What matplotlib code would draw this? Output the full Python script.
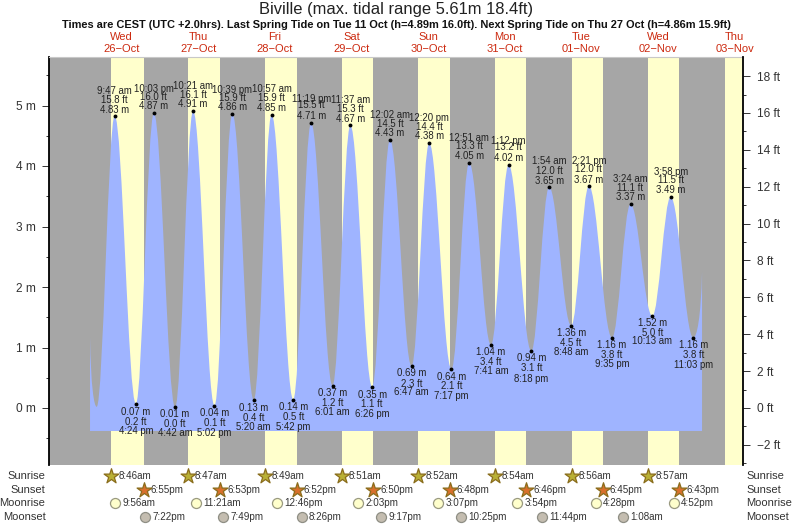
import matplotlib
matplotlib.use("Agg")
import matplotlib.pyplot as plt
from matplotlib.path import Path
from matplotlib.patches import PathPatch
from matplotlib.ticker import FixedLocator, FixedFormatter

plt.rcParams['font.family'] = ['Liberation Sans', 'DejaVu Sans']

# ---------- data (hours since 26 Oct 00:00, metres) ----------
edge_start_hour, edge_start_m = 2.04, 1.17
first_low_hour, first_low_m = 4.13, 0.02
edge_end_hour, edge_end_m = 193.8, 2.25
water_floor = -0.38

high_hours = [9.78, 22.05, 34.35, 46.65, 58.95, 71.32, 83.62, 96.03, 108.33, 120.85, 133.2, 145.9, 158.35, 171.4, 183.97]
high_m = [4.83, 4.87, 4.91, 4.86, 4.85, 4.71, 4.67, 4.43, 4.38, 4.05, 4.02, 3.65, 3.67, 3.37, 3.49]
high_ft = [15.8, 16.0, 16.1, 15.9, 15.9, 15.5, 15.3, 14.5, 14.4, 13.3, 13.2, 12.0, 12.0, 11.1, 11.5]
high_time = ['9:47 am', '10:03 pm', '10:21 am', '10:39 pm', '10:57 am', '11:19 pm', '11:37 am', '12:02 am',
             '12:20 pm', '12:51 am', '1:12 pm', '1:54 am', '2:21 pm', '3:24 am', '3:58 pm']
low_hours = [16.4, 28.7, 41.03, 53.33, 65.7, 78.02, 90.43, 102.78, 115.28, 127.68, 140.3, 152.8, 165.58, 178.22, 191.05]
low_m = [0.07, 0.01, 0.04, 0.13, 0.14, 0.37, 0.35, 0.69, 0.64, 1.04, 0.94, 1.36, 1.16, 1.52, 1.16]
low_ft = [0.2, 0.0, 0.1, 0.4, 0.5, 1.2, 1.1, 2.3, 2.1, 3.4, 3.1, 4.5, 3.8, 5.0, 3.8]
low_time = ['4:24 pm', '4:42 am', '5:02 pm', '5:20 am', '5:42 pm', '6:01 am', '6:26 pm', '6:47 am',
            '7:17 pm', '7:41 am', '8:18 pm', '8:48 am', '9:35 pm', '10:13 am', '11:03 pm']

weekdays = ['Wed', 'Thu', 'Fri', 'Sat', 'Sun', 'Mon', 'Tue', 'Wed', 'Thu']
dates = ['26\u2212Oct', '27\u2212Oct', '28\u2212Oct', '29\u2212Oct', '30\u2212Oct', '31\u2212Oct',
         '01\u2212Nov', '02\u2212Nov', '03\u2212Nov']

# (day index, hour-of-day)
sunrise_day = [0, 1, 2, 3, 4, 5, 6, 7]
sunrise_hr = [8.77, 8.78, 8.82, 8.85, 8.87, 8.90, 8.93, 8.95]
sunrise_lbl = ['8:46am', '8:47am', '8:49am', '8:51am', '8:52am', '8:54am', '8:56am', '8:57am']
last_sunrise = (8, 8.98)
sunset_day = [0, 1, 2, 3, 4, 5, 6, 7]
sunset_hr = [18.92, 18.88, 18.87, 18.83, 18.80, 18.77, 18.75, 18.72]
sunset_lbl = ['6:55pm', '6:53pm', '6:52pm', '6:50pm', '6:48pm', '6:46pm', '6:45pm', '6:43pm']
moonrise_day = [0, 1, 2, 3, 4, 5, 6, 7]
moonrise_hr = [9.93, 11.35, 12.77, 14.05, 15.12, 15.90, 16.47, 16.87]
moonrise_lbl = ['9:56am', '11:21am', '12:46pm', '2:03pm', '3:07pm', '3:54pm', '4:28pm', '4:52pm']
moonset_day = [0, 1, 2, 3, 4, 5, 7]
moonset_hr = [19.37, 19.82, 20.43, 21.28, 22.42, 23.73, 1.13]
moonset_lbl = ['7:22pm', '7:49pm', '8:26pm', '9:17pm', '10:25pm', '11:44pm', '1:08am']

row_names = ['Sunrise', 'Sunset', 'Moonrise', 'Moonset']

# ---------- layout ----------
W, H = 793, 525
L, R, T, B = 49, 743, 57, 465
PX_PER_HOUR = 76.6 / 24
X0 = 83.5
PX_PER_M = 60.5
Y0 = 408
FT = 0.3048
TXT = '#222222'

high_offs = [(-25, -16, -6), (-24, -16, -7), (-25, -16, -7), (-24, -16, -7), (-26, -17, -7),
             (-24, -18, -7), (-25, -16, -6), (-25, -16, -7), (-25, -16, -7), (-25, -17, -7),
             (-24, -18, -7), (-26, -16, -6), (-25, -17, -6), (-25, -16, -7), (-25, -17, -7)]
low_offs = [(8, 18, 27), (7, 17, 26), (7.5, 17, 27), (7.5, 17.5, 26.5), (7, 17, 27),
            (7, 17, 26), (8, 17, 27), (7, 18, 26), (8, 17, 27), (7, 17, 26),
            (7, 17, 27.5), (7, 17, 26), (7, 17, 26.5), (7, 17, 25), (7, 17, 27)]

fig = plt.figure(figsize=(W / 100, H / 100), dpi=100)
ax = fig.add_axes([L / W, 1 - B / H, (R - L) / W, (B - T) / H])
ax.set_xlim((L - X0) / PX_PER_HOUR, (R - X0) / PX_PER_HOUR)
ax.set_ylim((Y0 - B) / PX_PER_M, (Y0 - T) / PX_PER_M)

# background: night grey, daylight yellow
ax.set_facecolor('#a6a6a6')
for d, sr, ss in zip(sunrise_day, sunrise_hr, sunset_hr):
    ax.axvspan(d * 24 + sr, d * 24 + ss, color='#ffffcc', lw=0, zorder=1)
ax.axvspan(last_sunrise[0] * 24 + last_sunrise[1], ax.get_xlim()[1], color='#ffffcc', lw=0, zorder=1)

# water body: a Bezier path through the read high and low waters,
# flat-tangent at each turning point
turn_x = [first_low_hour]
turn_y = [first_low_m]
for hx, hy, lx, ly in zip(high_hours, high_m, low_hours, low_m):
    turn_x += [hx, lx]
    turn_y += [hy, ly]
HANDLE = 0.3642
verts = [(edge_start_hour, water_floor), (edge_start_hour, edge_start_m)]
codes = [Path.MOVETO, Path.LINETO]
verts += [(edge_start_hour + 0.12 * (first_low_hour - edge_start_hour), first_low_m + 0.3 * (edge_start_m - first_low_m)),
          (first_low_hour - 0.4 * (first_low_hour - edge_start_hour), first_low_m),
          (first_low_hour, first_low_m)]
codes += [Path.CURVE4] * 3
for x1, y1, x2, y2 in zip(turn_x[:-1], turn_y[:-1], turn_x[1:], turn_y[1:]):
    d = x2 - x1
    verts += [(x1 + HANDLE * d, y1), (x2 - HANDLE * d, y2), (x2, y2)]
    codes += [Path.CURVE4] * 3
d = edge_end_hour - turn_x[-1]
verts += [(turn_x[-1] + 0.4 * d, turn_y[-1]),
          (edge_end_hour - 0.12 * d, turn_y[-1] + 0.3 * (edge_end_m - turn_y[-1])),
          (edge_end_hour, edge_end_m)]
codes += [Path.CURVE4] * 3
verts += [(edge_end_hour, water_floor), (edge_start_hour, water_floor)]
codes += [Path.LINETO, Path.CLOSEPOLY]
ax.add_patch(PathPatch(Path(verts, codes), facecolor='#9fb4ff', edgecolor='none', lw=0, zorder=2))

ax.plot(high_hours, high_m, 'o', color='k', ms=2.8, mew=0, zorder=4)
ax.plot(low_hours, low_m, 'o', color='k', ms=2.8, mew=0, zorder=4)


def label(x, y, offs, strings):
    for off, s in zip(offs, strings):
        ax.annotate(s, (x, y), xytext=(0, -off * 0.72), textcoords='offset points',
                    ha='center', va='center', fontsize=6.9, color=TXT, zorder=5,
                    annotation_clip=False)


for x, m, ft, t, o in zip(high_hours, high_m, high_ft, high_time, high_offs):
    label(x, m, o, (t, f'{ft:.1f} ft', f'{m:.2f} m'))
for x, m, ft, t, o in zip(low_hours, low_m, low_ft, low_time, low_offs):
    label(x, m, o, (f'{m:.2f} m', f'{ft:.1f} ft', t))

# axes
for s in ('top', 'bottom'):
    ax.spines[s].set_visible(False)
ax.spines['left'].set_linewidth(1.3)
ax.spines['right'].set_visible(False)
ax.set_xticks([])
m_ticks = [0, 1, 2, 3, 4, 5]
ax.yaxis.set_major_locator(FixedLocator(m_ticks))
ax.yaxis.set_major_formatter(FixedFormatter([f'{v} m' for v in m_ticks]))
ax.yaxis.set_minor_locator(FixedLocator([-0.5, 0.5, 1.5, 2.5, 3.5, 4.5, 5.5]))
ax.tick_params(axis='y', which='major', length=5, width=0.7, labelsize=8.6, colors='#333333', pad=4.5)
ax.tick_params(axis='y', which='minor', length=2.5, width=0.7, color='#333333')

axr = ax.twinx()
axr.set_ylim(ax.get_ylim()[0] / FT, ax.get_ylim()[1] / FT)
for s in ('top', 'bottom', 'left'):
    axr.spines[s].set_visible(False)
axr.spines['right'].set_linewidth(1.3)
ft_ticks = [-2, 0, 2, 4, 6, 8, 10, 12, 14, 16, 18]
axr.yaxis.set_major_locator(FixedLocator(ft_ticks))
axr.yaxis.set_major_formatter(FixedFormatter([f'{v} ft'.replace('-', '\u2212') for v in ft_ticks]))
axr.yaxis.set_minor_locator(FixedLocator([-3, -1, 1, 3, 5, 7, 9, 11, 13, 15, 17]))
axr.tick_params(axis='y', which='major', length=5, width=0.7, labelsize=8.6, colors='#333333', pad=5)
axr.tick_params(axis='y', which='minor', length=2.5, width=0.7, color='#333333')

# top hairline
ax.plot([0, 1], [1, 1], transform=ax.transAxes, color='#c8c8c8', lw=0.8, clip_on=False, zorder=3)

# headings
fig.text(396 / W, 1 - 9.5 / H, 'Biville (max. tidal range 5.61m 18.4ft)', ha='center', va='center',
         fontsize=11.9, color='#222222')
fig.text(396 / W, 1 - 25 / H,
         'Times are CEST (UTC +2.0hrs). Last Spring Tide on Tue 11 Oct (h=4.89m 16.0ft). '
         'Next Spring Tide on Thu 27 Oct (h=4.86m 15.9ft)',
         ha='center', va='center', fontsize=7.9, fontweight='bold', color='#111111')
xtr = ax.get_xaxis_transform()
for i, (wd, dt) in enumerate(zip(weekdays, dates)):
    x = i * 24 + 12
    for s, py in ((wd, 37), (dt, 49)):
        ax.text(x, (B - py) / (B - T), s, transform=xtr, ha='center', va='center', fontsize=8,
                color='#cc2a10', clip_on=False)

# almanac rows
rows_py = [476, 490, 503, 517]
for name, py in zip(row_names, rows_py):
    fig.text(45.5 / W, 1 - py / H, name, ha='right', va='center', fontsize=8, color='#333333')
    fig.text(746.5 / W, 1 - py / H, name, ha='left', va='center', fontsize=8, color='#333333')

row_defs = [
    (sunrise_day, sunrise_hr, sunrise_lbl, rows_py[0], '*', '#b9b035', '#8a6d1c', 125),
    (sunset_day, sunset_hr, sunset_lbl, rows_py[1], '*', '#d9702c', '#8a6d1c', 125),
    (moonrise_day, moonrise_hr, moonrise_lbl, rows_py[2], 'o', '#ffffcc', '#9a9a80', 52),
    (moonset_day, moonset_hr, moonset_lbl, rows_py[3], 'o', '#c4bdb0', '#8f8f85', 52),
]
for days, hrs, lbls, py, mk, fc, ec, size in row_defs:
    ya = (B - py) / (B - T)
    for d, h, s in zip(days, hrs, lbls):
        x = d * 24 + h
        ax.scatter([x], [ya], s=size, marker=mk, facecolor=fc, edgecolor=ec, linewidth=0.9,
                   transform=xtr, clip_on=False, zorder=6)
        ax.annotate(s, (x, ya), xycoords=xtr, xytext=(5, 0), textcoords='offset points',
                    ha='left', va='center', fontsize=7.1, color='#333333', annotation_clip=False)

fig.savefig('out.png', dpi=100)
